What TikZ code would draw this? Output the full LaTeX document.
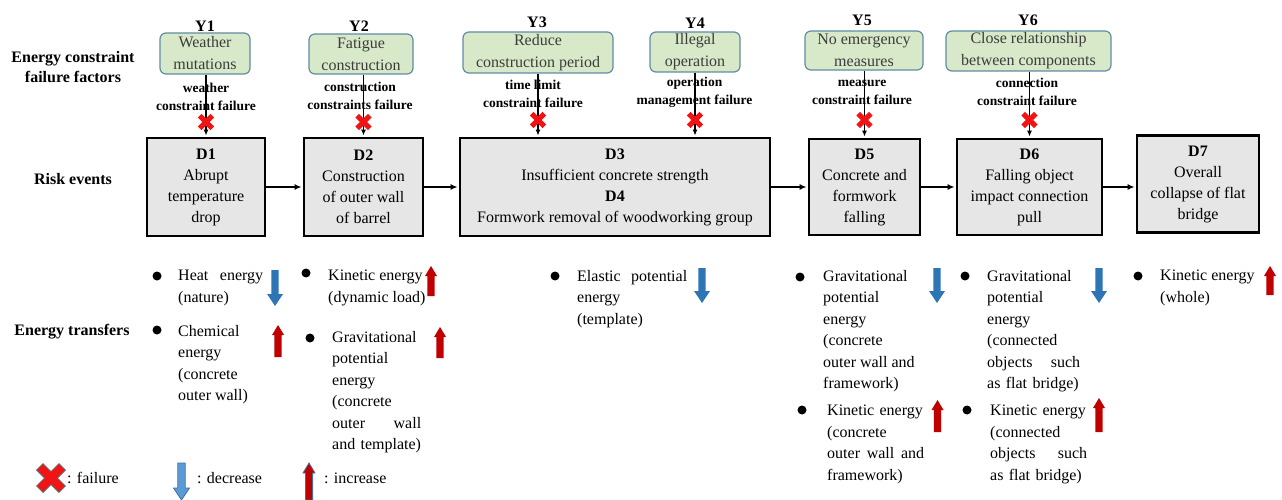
\documentclass[tikz,border=0pt]{standalone}
\usepackage{fontspec}
\setmainfont{Liberation Serif}
\usetikzlibrary{arrows.meta}

\definecolor{factorfill}{RGB}{215,233,200}
\definecolor{factoredge}{RGB}{96,140,165}
\definecolor{factortext}{RGB}{60,60,60}
\definecolor{eventfill}{RGB}{230,230,230}
\definecolor{risered}{RGB}{192,0,0}
\definecolor{dropblue}{RGB}{46,117,182}
\definecolor{failred}{RGB}{240,20,20}
\definecolor{legendblue}{RGB}{91,155,213}
\definecolor{legendedge}{RGB}{65,113,156}

\newcommand{\bodysize}{\fontsize{16}{21.5}\selectfont}
\newcommand{\smallbold}{\fontsize{13.5}{18}\selectfont\bfseries}

\tikzset{
  factor/.style={draw=factoredge, fill=factorfill, line width=1.2pt, rounded corners=6pt,
    inner sep=0pt, align=center, text=factortext, font=\fontsize{16}{22}\selectfont},
  ylabel/.style={font=\fontsize{16}{18}\selectfont\bfseries, inner sep=0pt},
  faillabel/.style={font=\smallbold, align=center, inner sep=0pt},
  event/.style={draw=black, line width=2.4pt, fill=eventfill, align=center, inner sep=0pt,
    font=\fontsize{16}{21}\selectfont},
  rowlabel/.style={font=\fontsize{16}{20}\selectfont\bfseries, align=center, inner sep=0pt},
  item/.style={anchor=north west, align=left, inner sep=0pt, font=\bodysize},
  dot/.style={circle, fill=black, inner sep=0pt, minimum size=9pt},
  flow/.style={-{Latex[length=7pt,width=6pt]}, line width=1.4pt, shorten >=1.2pt},
  cause/.style={-{Latex[length=6pt,width=5pt]}, line width=1.2pt, shorten >=1.2pt},
  legendtext/.style={anchor=base west, inner sep=0pt, font=\bodysize},
  % red cross marking a failed constraint
  pics/failx/.style={code={
    \path[pic actions, rotate=45] (-2.6,-9) -- (2.6,-9) -- (2.6,-2.6) -- (9,-2.6) -- (9,2.6)
      -- (2.6,2.6) -- (2.6,9) -- (-2.6,9) -- (-2.6,2.6) -- (-9,2.6) -- (-9,-2.6)
      -- (-2.6,-2.6) -- cycle;}},
  % block arrow pointing down, top edge at the origin, #1 = length
  pics/fallarrow/.style={code={
    \path[pic actions] (-3.7,0) -- (3.7,0) -- (3.7,#1-12) -- (8,#1-12) -- (0,#1)
      -- (-8,#1-12) -- (-3.7,#1-12) -- cycle;}},
  % block arrow pointing up, tip at the origin, #1 = length
  pics/risearrow/.style={code={
    \path[pic actions] (0,0) -- (6,10) -- (3.6,10) -- (3.6,#1) -- (-3.6,#1)
      -- (-3.6,10) -- (-6,10) -- cycle;}},
}

\begin{document}
\begin{tikzpicture}[x=1pt,y=-1pt]
\useasboundingbox (0,0) rectangle (1282,500);
\fill[white] (0,0) rectangle (1282,500);

% ---- row headings
\node[rowlabel] (hfactors) at (73,67) {Energy constraint\\failure factors};
\node[rowlabel] (hevents) at (73,179) {Risk events};
\node[rowlabel] (htransfers) at (72,332) {Energy transfers};

% ---- constraint failure factors
\node[factor, minimum width=90pt, minimum height=41pt] (Y1) at (205,53.5) {Weather\\mutations};
\node[factor, minimum width=104pt, minimum height=40pt] (Y2) at (361,54) {Fatigue\\construction};
\node[factor, minimum width=150pt, minimum height=41pt] (Y3) at (538,52.5) {Reduce\\construction period};
\node[factor, minimum width=90pt, minimum height=40pt] (Y4) at (695,52) {Illegal\\operation};
\node[factor, minimum width=118pt, minimum height=39pt] (Y5) at (864,50.5) {No emergency\\measures};
\node[factor, minimum width=165pt, minimum height=40pt] (Y6) at (1028.5,51) {Close relationship\\between components};

\node[ylabel] (t1) at (205,26) {Y1};
\node[ylabel] (t2) at (359,26) {Y2};
\node[ylabel] (t3) at (537,22.5) {Y3};
\node[ylabel] (t4) at (695,23) {Y4};
\node[ylabel] (t5) at (862,20.5) {Y5};
\node[ylabel] (t6) at (1028,20.5) {Y6};

\node[faillabel] (f1) at (206,97) {weather\\constraint failure};
\node[faillabel] (f2) at (360,95.5) {construction\\constraints failure};
\node[faillabel] (f3) at (533,93.5) {time limit\\constraint failure};
\node[faillabel] (f4) at (694.5,92.5) {operation\\management failure};
\node[faillabel] (f5) at (862,92) {measure\\constraint failure};
\node[faillabel] (f6) at (1027,92) {connection\\constraint failure};

% ---- risk events
\node[event, minimum width=118pt, minimum height=98pt] (D1) at (206,187)
  {\textbf{D1}\\Abrupt\\temperature\\drop};
\node[event, minimum width=119pt, minimum height=98pt] (D2) at (363.5,187)
  {\textbf{D2}\\Construction\\of outer wall\\of barrel};
\node[event, minimum width=310pt, minimum height=98pt] (D3) at (615,187)
  {\textbf{D3}\\Insufficient concrete strength\\\textbf{D4}\\Formwork removal of woodworking group};
\node[event, minimum width=111pt, minimum height=96pt] (D5) at (864.5,187)
  {\textbf{D5}\\Concrete and\\formwork\\falling};
\node[event, minimum width=145pt, minimum height=96pt] (D6) at (1029.5,187)
  {\textbf{D6}\\Falling object\\impact connection\\pull};
\node[event, minimum width=122pt, minimum height=97pt] (D7) at (1198,184)
  {\textbf{D7}\\Overall\\collapse of flat\\bridge};

\draw[flow] (D1.east) -- (D2.west);
\draw[flow] (D2.east) -- (D3.west);
\draw[flow] (D3.east) -- (D3.east -| D5.west);
\draw[flow] (D5.east) -- (D6.west);
\draw[flow] (D6.east) -- (D6.east -| D7.west);

% ---- failing constraints: factor -> event
\draw[cause] (Y1.south -| D1.north) -- (D1.north);
\draw[cause] (Y2.south -| D2.north) -- (D2.north);
\draw[cause] (Y3.south) -- (Y3.south |- D3.north);
\draw[cause] (Y4.south) -- (Y4.south |- D3.north);
\draw[cause] (Y5.south -| D5.north) -- (D5.north);
\draw[cause] (Y6.south -| D6.north) -- (D6.north);

\coordinate (xrow) at (0,122);
\coordinate (xrowb) at (0,120);
\pic[fill=failred] at (D1.north |- xrow) {failx};
\pic[fill=failred] at (D2.north |- xrow) {failx};
\pic[fill=failred] at (Y3.south |- xrowb) {failx};
\pic[fill=failred] at (Y4.south |- xrowb) {failx};
\pic[fill=failred] at (D5.north |- xrowb) {failx};
\pic[fill=failred] at (D6.north |- xrowb) {failx};

% ---- energy transfers
\node[dot] (b1) at (157,276) {};
\node[item, text width=85pt] (e1) at (178,270) {Heat\hfill energy\\(nature)};
\pic[fill=dropblue] at (275,270) {fallarrow=36};

\node[dot] (b2) at (157,330) {};
\node[item] (e2) at (178,325) {Chemical\\energy\\(concrete\\outer wall)};
\pic[fill=risered] at (278,325) {risearrow=32};

\node[dot] (b3) at (306,273) {};
\node[item] (e3) at (328,270) {Kinetic energy\\(dynamic load)};
\pic[fill=risered] at (431,266) {risearrow=30};

\node[dot] (b4) at (310,338) {};
\node[item, text width=89pt] (e4) at (332,331)
  {Gravitational\\potential\\energy\\(concrete\\outer\hfill wall\\and template)};
\pic[fill=risered] at (440,327) {risearrow=31};

\node[dot] (b5) at (555,276) {};
\node[item, text width=110pt] (e5) at (577,270) {Elastic\hfill potential\\energy\\(template)};
\pic[fill=dropblue] at (702,268) {fallarrow=35};

\node[dot] (b6) at (800,277) {};
\node[item] (e6) at (823,270)
  {Gravitational\\potential\\energy\\(concrete\\outer wall and\\framework)};
\pic[fill=dropblue] at (937,268) {fallarrow=35};

\node[dot] (b7) at (802,410) {};
\node[item, text width=97pt] (e7) at (827,405)
  {Kinetic energy\\(concrete\\outer\hfill wall\hfill and\\framework)};
\pic[fill=risered] at (937.5,400) {risearrow=32};

\node[dot] (b8) at (965,276) {};
\node[item, text width=93pt] (e8) at (987,270)
  {Gravitational\\potential\\energy\\(connected\\objects\hfill such\\as flat bridge)};
\pic[fill=dropblue] at (1099,268) {fallarrow=35};

\node[dot] (b9) at (967,410) {};
\node[item, text width=97pt] (e9) at (990,405)
  {Kinetic energy\\(connected\\objects\hfill such\\as flat bridge)};
\pic[fill=risered] at (1099,398) {risearrow=34};

\node[dot] (b10) at (1138,276) {};
\node[item] (e10) at (1160,270) {Kinetic energy\\(whole)};
\pic[fill=risered] at (1270,266) {risearrow=29};

% ---- legend
\pic[fill=failred, draw=gray!80!black, line width=0.8pt, scale=1.75] at (51,478) {failx};
\node[legendtext] (lfail) at (67,483) {: failure};
\pic[fill=legendblue, draw=legendedge, line width=0.8pt] at (181.5,463) {fallarrow=37};
\node[legendtext] (ldec) at (197,483) {: decrease};
\pic[fill=risered, draw=legendedge, line width=0.8pt] at (309,463) {risearrow=37};
\node[legendtext] (linc) at (324,483) {: increase};
\end{tikzpicture}
\end{document}
